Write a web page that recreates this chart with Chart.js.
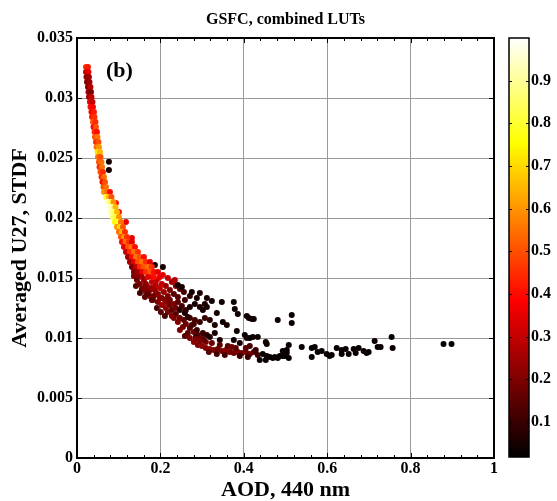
<!DOCTYPE html>
<html>
<head>
<meta charset="utf-8">
<script src="https://cdn.jsdelivr.net/npm/chart.js@4.4.1/dist/chart.umd.min.js"></script>
<style>
  html, body { margin: 0; padding: 0; background: #fff; }
</style>
</head>
<body>
<canvas id="chart" width="557" height="501"></canvas>
<script>
// Values: AOD (x), averaged U27 STDF (y), colour value (ratio)
const aod = [
  // stray dark points beside the stem
  .0766, .0766,
  // red dots beside the stem
  .0934, .1006, .1174, .1317,
  // knee, dense dark red
  .1365, .1437, .1509, .1413, .1557, .1653, .1509, .1629,
  .1749, .1701, .1796, .1868, .1820, .1940, .1892, .1988,
  .2036, .2108, .1988, .2084, .2180, .2132, .2228, .2180,
  .2275, .1916, .2036, .2132, .2228, .2323, .1605, .1461, .1749,
  // knee, fill of the band
  .1653, .1749, .1844, .1940, .2036, .2132, .2228, .2323,
  .2371, .2275, .2371, .2467, .2563, .2611, .2707, .2802,
  .2898, .2994, .3090, .2707, .2802, .2515, .2419, .2611,
  .1892, .1796, .1605, .1701, .1796, .1916, .2012, .2108,
  // upper knee
  .2275, .2371, .2467, .2563, .2419, .2587, .2707, .2347, .2180, .2060,
  // scattered black points, upper edge
  .1868, .2060, .2419, .2515, .2754, .2874, .2946, .3114,
  .3066, .3234, .3473, .3760, .3784, .3856, .4072, .4120,
  .4192, .4240, .4814, .5150, .5150,
  // middle of the cloud
  .2467, .2587, .2659, .2707, .2826, .2946, .3018, .3114,
  .3353, .3497, .3593, .3305, .3186, .3066, .2946, .2826,
  .2754, .2874, .3018, .3114, .3186, .3305, .3425, .2850,
  .2659, .2539, .2419, .2323, .2467, .2587, .3832, .4024,
  .4144, .4216, .3760, .3904, .4072, .4335, .4527, .4551,
  // lower dense band
  .2707, .2802, .2898, .2994, .3090, .3186, .3281, .3377,
  .3473, .3569, .3665, .3760, .3856, .3952, .4048, .4144,
  .4240, .4335, .3617, .3713, .3808, .3425, .3234, .3042,
  .4048, .4144, .2946, .2850, .3162, .3353, .3545, .3904,
  .4096, .4287,
  // floor to the right
  .4383, .4527, .4623, .4743, .4814, .4934, .5030, .5078,
  .4455, .4551, .5078, .5030, .5389, .5629, .5701, .5629,
  .5772, .5868, .5988, .6060, .6108, .6228, .6347, .6443,
  .6347, .6515, .6635, .6683, .6754, .6874, .6946, .6994,
  .7138, .7210, .7281, .7545, .7569, .8790, .8982, .4695,
  .4862, .4982, .4934,
  // stem, top to bottom
  .0216, .0263,
  .0216, .0275,
  .0228, .0287,
  .0240, .0299,
  .0263, .0323,
  .0275, .0335,
  .0287, .0347,
  .0311, .0371,
  .0323, .0383,
  .0347, .0407,
  .0359, .0419,
  .0383, .0443,
  .0395, .0455,
  .0419, .0479,
  .0431, .0491,
  .0455, .0515,
  .0467, .0527,
  .0491, .0551,
  .0503, .0563,
  .0527, .0587,
  .0539, .0599,
  .0563, .0623,
  .0587, .0647,
  .0611, .0671,
  .0635, .0695,
  .0647, .0719, .0790,
  .0695, .0766, .0826,
  .0731, .0802, .0874,
  .0778, .0850, .0922,
  .0814, .0886, .0958,
  .0862, .0934, .1006,
  .0910, .0982, .1054,
  .0958, .1030, .1102,
  .1006, .1078, .1150,
  .1054, .1126, .1198,
  .1078, .1162, .1246, .1317,
  .1126, .1222, .1305, .1389,
  .1174, .1269, .1365, .1461,
  .1222, .1317, .1413, .1509, .1605,
  .1269, .1365, .1461, .1557, .1653, .1749,
  .1317, .1413, .1509, .1605, .1701, .1796,
  .1365, .1461, .1557, .1653, .1749, .1844, .1940,
  .1557, .1701, .1844, .1988
];

const stdf = [
  .02469, .0240,
  .02125, .0205, .01967, .01833,
  .01517, .01483, .0145, .01433, .01408, .01383, .01375, .01342,
  .0135, .01425, .01467, .014, .01317, .013, .01367, .01333,
  .01275, .01317, .01417, .01383, .0135, .0125, .01275, .01217,
  .01233, .01483, .0145, .01433, .014, .01367, .01483, .01525, .01517,
  .0145, .014, .0135, .01367, .01333, .013, .01317, .01283,
  .0125, .01183, .012, .01167, .0115, .01117, .01083, .0105,
  .01025, .01, .00967, .01167, .01117, .01267, .013, .01233,
  .01442, .01417, .01417, .01367, .01317, .0125, .01217, .01183,
  .01467, .01433, .01408, .01383, .01342, .01317, .0135, .01483, .015, .01525,
  .01608, .01592, .01442, .01425, .01383, .01333, .01375, .01333,
  .01283, .01308, .013, .013, .01242, .012, .01183, .01167,
  .01158, .01158, .0115, .01192, .01125,
  .01233, .01208, .01175, .01258, .01283, .01258, .01233, .01258,
  .01208, .01133, .01108, .01108, .0115, .01167, .01133, .0115,
  .01108, .01067, .01042, .01025, .01008, .01042, .00983, .01008,
  .01042, .01092, .01133, .01167, .01067, .01017, .01058, .01025,
  .01, .01008, .00983, .00958, .01, .01008, .00967, .0095,
  .01, .00967, .00942, .00933, .00917, .00908, .009, .00908,
  .00892, .009, .00883, .00875, .00883, .00875, .00883, .00867,
  .00883, .00858, .00933, .00925, .00917, .00942, .00958, .00983,
  .00917, .00933, .00975, .00992, .00883, .00867, .00858, .0085,
  .00842, .009,
  .00817, .00817, .00842, .00842, .00833, .0085, .00875, .00833,
  .00867, .0085, .00942, .009, .00925, .00917, .00925, .00842,
  .00883, .00892, .00867, .0085, .00858, .00917, .009, .00908,
  .00867, .00867, .00908, .00875, .00917, .00892, .00875, .00883,
  .00975, .00925, .00925, .01008, .00917, .0095, .0095, .00833,
  .0085, .0085, .00892,
  .03258, .03258,
  .03217, .03217,
  .03175, .03175,
  .03133, .03133,
  .03092, .03092,
  .0305, .0305,
  .03008, .03008,
  .02967, .02967,
  .02925, .02925,
  .02883, .02883,
  .02842, .02842,
  .028, .028,
  .02758, .02758,
  .02717, .02717,
  .02675, .02675,
  .02633, .02633,
  .02592, .02592,
  .0255, .0255,
  .02508, .02508,
  .02467, .02467,
  .02425, .02425,
  .02383, .02383,
  .02342, .02342,
  .023, .023,
  .02258, .02258,
  .02217, .02217, .02217,
  .02175, .02175, .02175,
  .02133, .02133, .02133,
  .02092, .02092, .02092,
  .0205, .0205, .0205,
  .02008, .02008, .02008,
  .01967, .01967, .01967,
  .01925, .01925, .01925,
  .01883, .01883, .01883,
  .01842, .01842, .01842,
  .018, .018, .018, .018,
  .01758, .01758, .01758, .01758,
  .01717, .01717, .01717, .01717,
  .01675, .01675, .01675, .01675, .01675,
  .01633, .01633, .01633, .01633, .01633, .01633,
  .01592, .01592, .01592, .01592, .01592, .01592,
  .0155, .0155, .0155, .0155, .0155, .0155, .0155,
  .01508, .01508, .01508, .01508
];

const ratio = [
  .05, .05,
  .4, .4, .35, .35,
  .2, .18, .2, .15, .18, .2, .12, .15,
  .22, .25, .3, .22, .18, .2, .25, .22,
  .25, .2, .3, .25, .2, .22, .18, .2,
  .15, .3, .3, .25, .2, .15, .25, .22, .3,
  .22, .2, .18, .22, .2, .22, .18, .2,
  .18, .2, .15, .18, .15, .18, .15, .18,
  .15, .18, .2, .12, .1, .12, .15, .1,
  .28, .25, .2, .15, .15, .12, .15, .12,
  .25, .2, .15, .12, .15, .1, .08, .28, .3, .35,
  .05, .05, .06, .05, .05, .05, .06, .05,
  .06, .05, .04, .04, .04, .04, .04, .04,
  .04, .04, .04, .04, .04,
  .08, .06, .08, .06, .05, .06, .05, .05,
  .05, .04, .05, .06, .08, .1, .1, .12,
  .12, .1, .1, .08, .06, .05, .06, .1,
  .15, .18, .2, .2, .2, .15, .04, .04,
  .04, .04, .05, .06, .04, .04, .04, .04,
  .2, .22, .2, .22, .2, .22, .2, .18,
  .2, .22, .2, .18, .2, .18, .2, .18,
  .15, .12, .15, .18, .15, .15, .18, .15,
  .15, .12, .2, .2, .15, .12, .12, .1,
  .1, .1,
  .03, .03, .03, .03, .03, .03, .03, .03,
  .03, .03, .03, .03, .03, .03, .03, .03,
  .03, .03, .03, .03, .03, .03, .03, .03,
  .03, .03, .03, .03, .03, .03, .03, .03,
  .03, .03, .03, .03, .03, .03, .03, .03,
  .03, .03, .03,
  .45, .42,
  .3, .35,
  .22, .25,
  .2, .25,
  .22, .28,
  .25, .2,
  .25, .3,
  .35, .3,
  .4, .38,
  .38, .42,
  .42, .45,
  .5, .45,
  .4, .5,
  .45, .4,
  .5, .55,
  .45, .5,
  .55, .6,
  .72, .65,
  .55, .5,
  .5, .55,
  .45, .55,
  .5, .45,
  .45, .55,
  .4, .5,
  .5, .55,
  .6, .55, .4,
  .8, .65, .5,
  .95, .85, .6,
  .97, .9, .65,
  .92, .85, .65,
  .85, .8, .6,
  .75, .8, .55,
  .6, .7, .5,
  .55, .65, .45,
  .5, .6, .45,
  .4, .55, .45, .35,
  .35, .5, .55, .4,
  .3, .45, .55, .45,
  .25, .4, .55, .5, .4,
  .25, .35, .5, .55, .45, .35,
  .2, .3, .45, .5, .55, .45,
  .2, .25, .35, .45, .5, .4, .35,
  .25, .35, .4, .35
];

const xTickStep = 0.2;
const xMinorStep = 0.04;
const yTickStep = 0.005;
const cbTicks = [0.1, 0.2, 0.3, 0.4, 0.5, 0.6, 0.7, 0.8, 0.9];
const cbMin = 0.018, cbMax = 1.0;

const SERIF = '"Liberation Serif", "Times New Roman", serif';

// MATLAB-like "hot" colormap
function hot(v) {
  const t = Math.min(1, Math.max(0, (v - cbMin) / (cbMax - cbMin)));
  const r = Math.min(1, t / 0.375);
  const g = Math.min(1, Math.max(0, (t - 0.375) / 0.375));
  const b = Math.min(1, Math.max(0, (t - 0.75) / 0.25));
  return 'rgb(' + Math.round(r * 255) + ',' + Math.round(g * 255) + ',' + Math.round(b * 255) + ')';
}

const points = aod.map((x, i) => ({ x: x, y: stdf[i] }));
const colors = ratio.map(hot);

// Frame, inward ticks, title, panel label and the colour bar
const decorPlugin = {
  id: 'decor',
  afterDraw(chart) {
    const { ctx, chartArea: a, scales } = chart;
    const xs = scales.x, ys = scales.y;
    ctx.save();

    // inward tick marks on all four sides
    ctx.strokeStyle = '#000';
    ctx.lineWidth = 1;
    ctx.beginPath();
    for (let i = 0; i <= 25; i++) {
      const px = Math.round(xs.getPixelForValue(i * xMinorStep)) + 0.5;
      const len = (i % 5 === 0) ? 5 : 3;
      ctx.moveTo(px, a.bottom); ctx.lineTo(px, a.bottom - len);
      ctx.moveTo(px, a.top); ctx.lineTo(px, a.top + len);
    }
    for (let i = 0; i <= 7; i++) {
      const py = Math.round(ys.getPixelForValue(i * yTickStep)) + 0.5;
      ctx.moveTo(a.left, py); ctx.lineTo(a.left + 5, py);
      ctx.moveTo(a.right, py); ctx.lineTo(a.right - 5, py);
    }
    ctx.stroke();

    ctx.lineWidth = 2;
    ctx.strokeRect(a.left, a.top, a.right - a.left, a.bottom - a.top);

    // title and panel label
    ctx.fillStyle = '#000';
    ctx.textAlign = 'center';
    ctx.textBaseline = 'middle';
    ctx.font = 'bold 16px ' + SERIF;
    ctx.fillText('GSFC, combined LUTs', (a.left + a.right) / 2, 20);
    ctx.textAlign = 'left';
    ctx.font = 'bold 22px ' + SERIF;
    ctx.fillText('(b)', 106, 71);

    // colour bar
    const cbL = 509, cbR = 529, cbT = a.top, cbB = 457;
    const toY = v => cbT + (cbMax - v) / (cbMax - cbMin) * (cbB - cbT);
    for (let py = cbT; py < cbB; py++) {
      const v = cbMax - (py + 0.5 - cbT) / (cbB - cbT) * (cbMax - cbMin);
      ctx.fillStyle = hot(v);
      ctx.fillRect(cbL, py, cbR - cbL, 1);
    }
    ctx.strokeStyle = '#000';
    ctx.lineWidth = 1.5;
    ctx.strokeRect(cbL, cbT, cbR - cbL, cbB - cbT);
    ctx.lineWidth = 1;
    ctx.beginPath();
    cbTicks.forEach(v => {
      const py = Math.round(toY(v)) + 0.5;
      ctx.moveTo(cbL, py); ctx.lineTo(cbL + 3, py);
      ctx.moveTo(cbR, py); ctx.lineTo(cbR - 3, py);
    });
    ctx.stroke();
    ctx.fillStyle = '#000';
    ctx.textAlign = 'left';
    ctx.textBaseline = 'middle';
    ctx.font = 'bold 16px ' + SERIF;
    cbTicks.forEach(v => ctx.fillText(String(v), 531, toY(v)));

    ctx.restore();
  }
};

new Chart(document.getElementById('chart'), {
  type: 'scatter',
  data: {
    datasets: [{
      data: points,
      pointBackgroundColor: colors,
      pointBorderWidth: 0,
      pointRadius: 3,
      pointHoverRadius: 3
    }]
  },
  options: {
    responsive: false,
    animation: false,
    devicePixelRatio: 1,
    layout: { padding: { top: 38, right: 63, left: 0, bottom: 0 } },
    plugins: {
      legend: { display: false },
      tooltip: { enabled: false },
      title: { display: false }
    },
    scales: {
      x: {
        type: 'linear',
        min: 0,
        max: 1,
        afterFit: s => { s.height = 43; },
        border: { display: false },
        grid: { color: '#999', lineWidth: 1, drawTicks: false },
        ticks: {
          stepSize: xTickStep,
          padding: 1,
          color: '#000',
          font: { family: SERIF, size: 16, weight: 'bold' },
          callback: v => String(+v.toFixed(1))
        },
        title: {
          display: true,
          text: 'AOD, 440 nm',
          color: '#000',
          font: { family: SERIF, size: 22, weight: 'bold', lineHeight: 1 },
          padding: { top: 0, bottom: 0 }
        }
      },
      y: {
        type: 'linear',
        min: 0,
        max: 0.035,
        afterFit: s => { s.width = 77; },
        border: { display: false },
        grid: { color: '#999', lineWidth: 1, drawTicks: false },
        ticks: {
          stepSize: yTickStep,
          padding: 4,
          color: '#000',
          font: { family: SERIF, size: 16, weight: 'bold' },
          callback: v => String(+v.toFixed(3))
        },
        title: {
          display: true,
          text: 'Averaged U27, STDF',
          color: '#000',
          font: { family: SERIF, size: 22, weight: 'bold', lineHeight: 1 },
          padding: { top: 9, bottom: 0 }
        }
      }
    }
  },
  plugins: [decorPlugin]
});
</script>
</body>
</html>
